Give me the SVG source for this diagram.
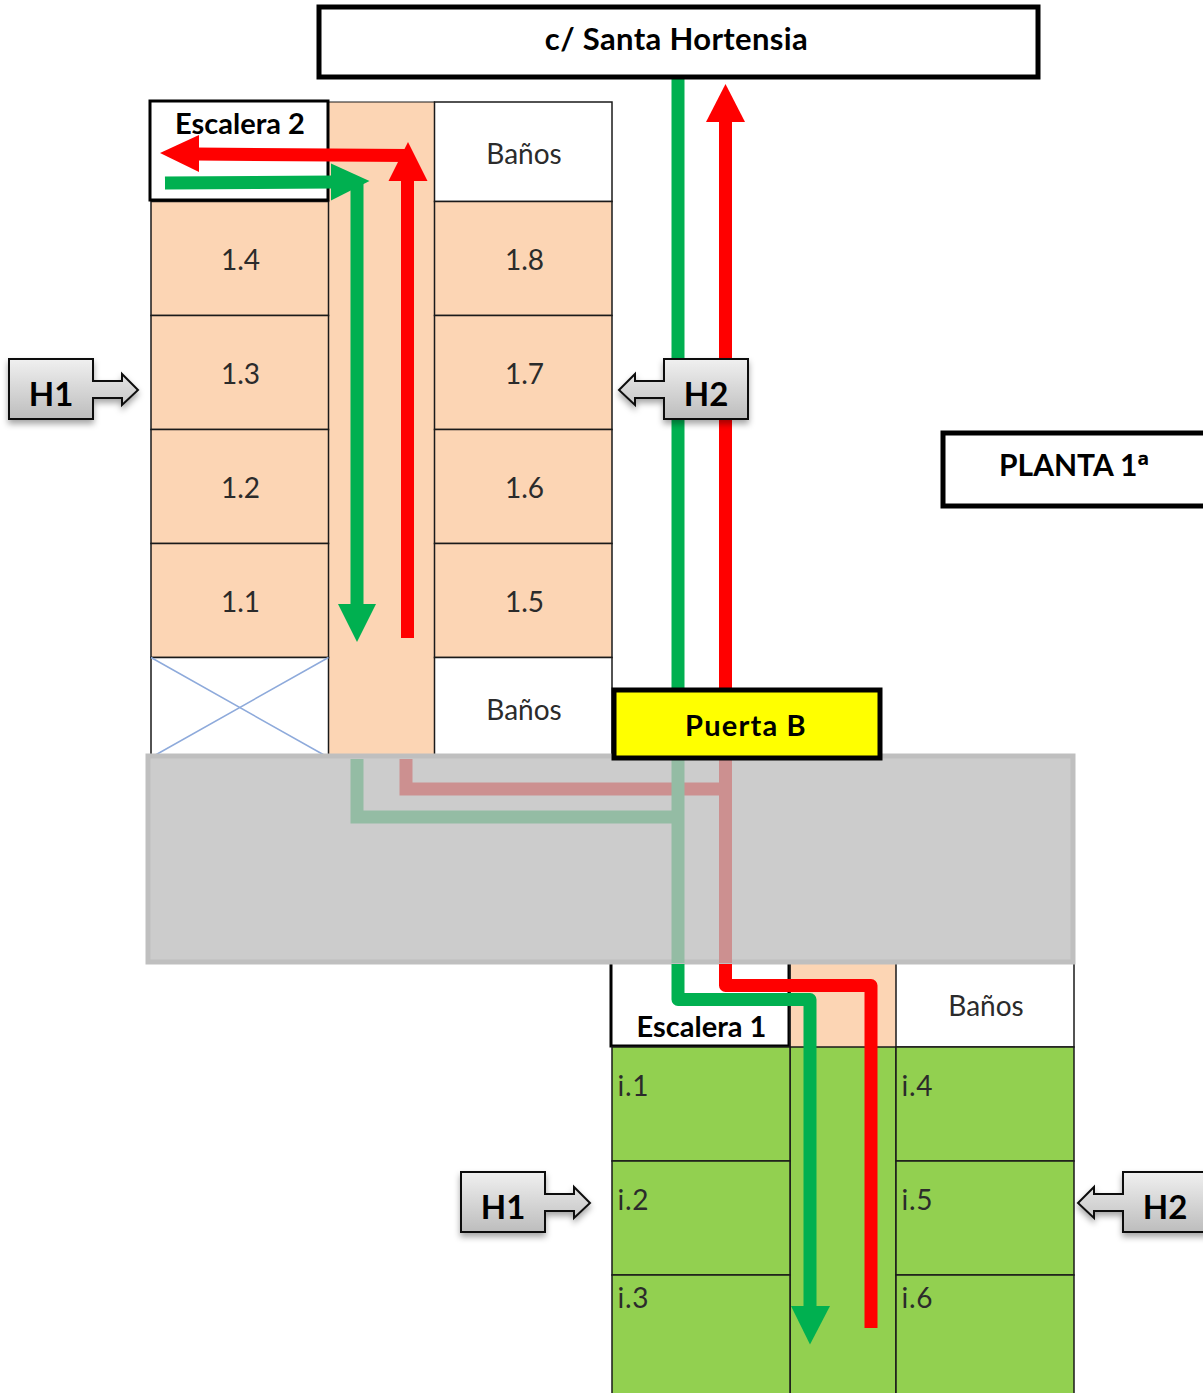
<svg xmlns="http://www.w3.org/2000/svg" width="1203" height="1393" viewBox="0 0 1203 1393">
<style>
text{font-family:"Lato","Open Sans","Liberation Sans",sans-serif;text-anchor:middle}
.c{fill:#fcd5b4;stroke:#1a1a1a;stroke-width:1.5}
.w{fill:#fff;stroke:#1a1a1a;stroke-width:1.5}
.g{fill:#92d050;stroke:#1a1a1a;stroke-width:1.5}
.t{font-size:28px;fill:#2b2b2b}
.i{font-size:28px;fill:#2b2b2b;text-anchor:start;letter-spacing:.7px}
.b{font-size:29px;font-weight:700;fill:#000}
.box{stroke:#000;stroke-width:5;fill:#fff}
.h{fill:url(#hg);stroke:#111;stroke-width:2;filter:url(#sh)}
.ht{font-size:33px;font-weight:700;fill:#000}
.gl{fill:none;stroke:#00b050;stroke-width:13}
.rl{fill:none;stroke:#f00;stroke-width:13}
.gd{fill:none;stroke:#94bca4;stroke-width:13}
.rd{fill:none;stroke:#cc9090;stroke-width:13}
</style>
<defs>
<linearGradient id="hg" x1="0" y1="0" x2="0" y2="1"><stop offset="0" stop-color="#f0f0f0"/><stop offset="1" stop-color="#bdbdbd"/></linearGradient>
<filter id="sh" x="-20%" y="-20%" width="140%" height="150%"><feDropShadow dx="0" dy="4" stdDeviation="3" flood-color="#000" flood-opacity=".35"/></filter>
</defs>
<rect width="1203" height="1393" fill="#fff"/>
<g id="upper-plan">
<rect class="c" x="328.500" y="102" width="106" height="655" style="stroke-width:1"/>
<g id="banos-top"><rect class="w" x="434.500" y="102" width="177.500" height="99.500"/><text class="t" x="524" y="164">Baños</text></g>
<g id="r14"><rect class="c" x="151" y="201.500" width="177.500" height="114"/><text class="t" x="240.500" y="269.500">1.4</text></g>
<g id="r13"><rect class="c" x="151" y="315.500" width="177.500" height="114"/><text class="t" x="240.500" y="383.500">1.3</text></g>
<g id="r12"><rect class="c" x="151" y="429.500" width="177.500" height="114"/><text class="t" x="240.500" y="497.500">1.2</text></g>
<g id="r11"><rect class="c" x="151" y="543.500" width="177.500" height="114"/><text class="t" x="240.500" y="611.500">1.1</text></g>
<g id="r18"><rect class="c" x="434.500" y="201.500" width="177.500" height="114"/><text class="t" x="524.500" y="269.500">1.8</text></g>
<g id="r17"><rect class="c" x="434.500" y="315.500" width="177.500" height="114"/><text class="t" x="524.500" y="383.500">1.7</text></g>
<g id="r16"><rect class="c" x="434.500" y="429.500" width="177.500" height="114"/><text class="t" x="524.500" y="497.500">1.6</text></g>
<g id="r15"><rect class="c" x="434.500" y="543.500" width="177.500" height="114"/><text class="t" x="524.500" y="611.500">1.5</text></g>
<g id="void"><rect class="w" x="151" y="657.500" width="177.500" height="100"/><path d="M151 657.500L328.500 757.500M328.500 657.500L151 757.500" stroke="#8eaadb" stroke-width="1.5" fill="none"/></g>
<g id="banos-mid"><rect class="w" x="434.500" y="657.500" width="177.500" height="100"/><text class="t" x="524" y="720">Baños</text></g>
<g id="escalera2"><rect x="150" y="101" width="178" height="99" fill="#fff" stroke="#000" stroke-width="3"/><text class="b" x="240" y="134">Escalera 2</text></g>
</g>
<g id="lower-plan">
<rect x="790" y="964" width="106" height="83" fill="#fcd5b4"/>
<rect class="g" x="790" y="1047" width="106" height="350"/>
<g id="escalera1"><rect x="611" y="960" width="178" height="86" fill="#fff" stroke="#000" stroke-width="3"/><text class="b" x="701.500" y="1037">Escalera 1</text></g>
<line x1="790" y1="964" x2="790" y2="1047" stroke="#1a1a1a" stroke-width="1.5"/>
<g id="banos-low"><rect class="w" x="896" y="960" width="178" height="87"/><text class="t" x="986" y="1016">Baños</text></g>
<g id="i1"><rect class="g" x="612" y="1047" width="178" height="114"/><text class="i" x="617.500" y="1095.500">i.1</text></g>
<g id="i2"><rect class="g" x="612" y="1161" width="178" height="114"/><text class="i" x="617.500" y="1209.500">i.2</text></g>
<g id="i3"><rect class="g" x="612" y="1275" width="178" height="122"/><text class="i" x="617.500" y="1307.500">i.3</text></g>
<g id="i4"><rect class="g" x="896" y="1047" width="178" height="114"/><text class="i" x="901.500" y="1095.500">i.4</text></g>
<g id="i5"><rect class="g" x="896" y="1161" width="178" height="114"/><text class="i" x="901.500" y="1209.500">i.5</text></g>
<g id="i6"><rect class="g" x="896" y="1275" width="178" height="122"/><text class="i" x="901.500" y="1307.500">i.6</text></g>
</g>
<g id="band"><rect x="148" y="756" width="925" height="206" fill="#ccc" stroke="#bfbfbf" stroke-width="5"/></g>
<g id="connectors">
<path class="gl" d="M678 78V692"/>
<path class="rl" d="M725.500 692V118"/><path d="M725.500 84L745 122H706Z" fill="#f00"/>
<path class="rl" d="M195 154L408 155.500"/><path d="M160 153L199 135V172Z" fill="#f00"/>
<path class="rl" d="M407.500 638V178"/><path d="M408 142L427.500 181H388.500Z" fill="#f00"/>
<path class="gl" d="M165 183L335 182"/><path d="M369.500 181L331 163.500V200.500Z" fill="#00b050"/>
<path class="gl" d="M357 182V608"/><path d="M357 642L338 604H376Z" fill="#00b050"/>
<path class="rd" d="M406 759V789H726"/>
<path class="rd" d="M725.500 759V963"/>
<path class="gd" d="M357 759V817H678"/>
<path class="gd" d="M678 759V963"/>
<path class="rl" d="M725.500 964V985.500H871V1328" stroke-linejoin="round"/>
<path class="gl" d="M678 964V999.500H810V1310" stroke-linejoin="round"/>
<path d="M810 1344.500L791 1306H830Z" fill="#00b050"/>
</g>
<g id="calle"><rect class="box" x="319" y="7" width="719" height="70"/><text x="676.500" y="50" style="font-size:31px;font-weight:700;letter-spacing:.35px">c/ Santa Hortensia</text></g>
<g id="puerta-b"><rect class="box" x="614" y="690" width="266" height="68" style="fill:#ff0"/><text class="b" x="746" y="736" style="letter-spacing:1.2px">Puerta B</text></g>
<g id="planta"><rect class="box" x="943" y="433" width="264" height="73"/><text x="1074" y="476" style="font-size:30px;font-weight:700">PLANTA 1<tspan style="font-family:'Open Sans',sans-serif">ª</tspan></text></g>
<g id="h1-top"><path class="h" d="M9 359H93V381H122V374L138 390L122 405V398H93V419H9Z"/><text class="ht" x="51" y="406">H1</text></g>
<g id="h2-top"><path class="h" d="M748 359H664V381H635V374L619 390L635 405V398H664V419H748Z"/><text class="ht" x="706" y="406">H2</text></g>
<g id="h1-low"><path class="h" d="M461 1172H545V1194H574V1187L590 1203L574 1218V1211H545V1232H461Z"/><text class="ht" x="503" y="1219">H1</text></g>
<g id="h2-low"><path class="h" d="M1207 1172H1123V1194H1094V1187L1078 1203L1094 1218V1211H1123V1232H1207Z"/><text class="ht" x="1165" y="1219">H2</text></g>
</svg>
